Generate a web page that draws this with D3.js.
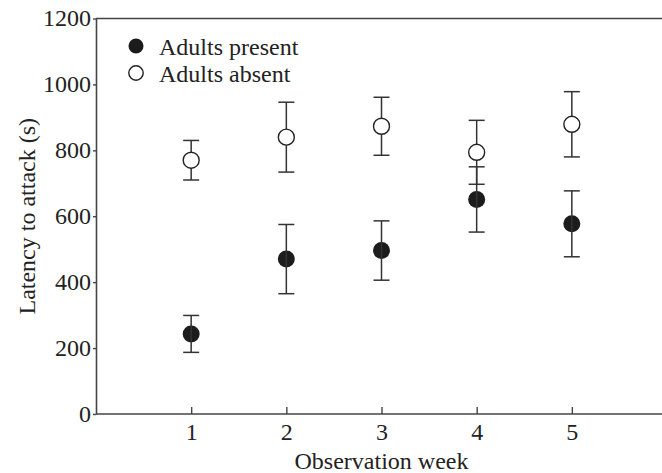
<!DOCTYPE html>
<html>
<head>
<meta charset="utf-8">
<script src="https://cdn.jsdelivr.net/npm/d3@7"></script>
<style>
    body { margin: 0; background: #fff; }
    text { font-family: "Liberation Serif", "Times New Roman", serif; fill: #222; }
</style>
</head>
<body>
<div id="chart"></div>
<script>
// data
var weeks = [1, 2, 3, 4, 5];
var presentMean = [243, 470, 496, 651, 577];
var presentErr = [56, 105, 90, 99, 100];
var absentMean = [770, 840, 873, 794, 879];
var absentErr = [60, 106, 88, 97, 99];
var yTicks = [0, 200, 400, 600, 800, 1000, 1200];
var seriesNames = ["Adults present", "Adults absent"];

var width = 662, height = 473;
var margin = {top: 18.5, right: -5, bottom: 59, left: 96};

var svg = d3.select("#chart").append("svg")
    .attr("width", width)
    .attr("height", height);

// scales
var x = d3.scaleLinear()
    .domain([0, 6])
    .range([margin.left, width - margin.right]);

var y = d3.scaleLinear()
    .domain([0, 1200])
    .range([height - margin.bottom, margin.top]);

var axisColor = "#444";

// top frame line
svg.append("line")
    .attr("x1", x(0)).attr("x2", width)
    .attr("y1", y(1200)).attr("y2", y(1200))
    .attr("stroke", axisColor)
    .attr("stroke-width", 1.6);

// x axis, ticks point inward
var xAxis = svg.append("g")
    .attr("transform", "translate(0," + y(0) + ")")
    .call(d3.axisBottom(x).tickValues(weeks).tickFormat(d3.format("d"))
        .tickSize(-7).tickPadding(9).tickSizeOuter(0));

// y axis
var yAxis = svg.append("g")
    .attr("transform", "translate(" + x(0) + ",0)")
    .call(d3.axisLeft(y).tickValues(yTicks).tickFormat(d3.format("d"))
        .tickSize(3).tickPadding(2).tickSizeOuter(0));

[xAxis, yAxis].forEach(function(ax) {
    ax.select(".domain").attr("stroke", axisColor).attr("stroke-width", 1.6);
    ax.selectAll(".tick line").attr("stroke", axisColor).attr("stroke-width", 1.4);
    ax.selectAll(".tick text")
        .attr("fill", "#222")
        .style("font-family", "'Liberation Serif', serif")
        .style("font-size", "24px");
});
// stretch bottom axis line to the right edge
xAxis.select(".domain").attr("d", "M" + x(0) + ",0H" + width);
yAxis.selectAll(".tick text").attr("dy", "0.3em");

// axis titles
svg.append("text")
    .attr("x", x(3))
    .attr("y", 469)
    .attr("text-anchor", "middle")
    .style("font-size", "24px")
    .text("Observation week");

svg.append("text")
    .attr("transform", "rotate(-90)")
    .attr("x", -(y(0) + y(1200)) / 2)
    .attr("y", 35)
    .attr("text-anchor", "middle")
    .style("font-size", "24px")
    .text("Latency to attack (s)");

var present = weeks.map(function(w, i) { return {week: w, mean: presentMean[i], err: presentErr[i]}; });
var absent = weeks.map(function(w, i) { return {week: w, mean: absentMean[i], err: absentErr[i]}; });

var cap = 8;
var barColor = "#333";

// filled points go under their error bars
svg.selectAll(".present_points")
    .data(present)
    .enter().append("circle")
    .attr("class", "present_points")
    .attr("cx", function(d) { return x(d.week); })
    .attr("cy", function(d) { return y(d.mean); })
    .attr("r", 8.5)
    .style("fill", "#1c1c1c");

function drawBars(data, cls) {
    var g = svg.selectAll("." + cls)
        .data(data)
        .enter().append("g")
        .attr("class", cls)
        .attr("stroke", barColor)
        .attr("stroke-width", 1.5);

    g.append("line")
        .attr("x1", function(d) { return x(d.week); })
        .attr("x2", function(d) { return x(d.week); })
        .attr("y1", function(d) { return y(d.mean - d.err); })
        .attr("y2", function(d) { return y(d.mean + d.err); });

    g.append("line")
        .attr("x1", function(d) { return x(d.week) - cap; })
        .attr("x2", function(d) { return x(d.week) + cap; })
        .attr("y1", function(d) { return y(d.mean + d.err); })
        .attr("y2", function(d) { return y(d.mean + d.err); });

    g.append("line")
        .attr("x1", function(d) { return x(d.week) - cap; })
        .attr("x2", function(d) { return x(d.week) + cap; })
        .attr("y1", function(d) { return y(d.mean - d.err); })
        .attr("y2", function(d) { return y(d.mean - d.err); });
}

drawBars(present, "present_bars");
drawBars(absent, "absent_bars");

// open points cover their bars
svg.selectAll(".absent_points")
    .data(absent)
    .enter().append("circle")
    .attr("class", "absent_points")
    .attr("cx", function(d) { return x(d.week); })
    .attr("cy", function(d) { return y(d.mean); })
    .attr("r", 8)
    .style("fill", "#fff")
    .style("stroke", "#222")
    .style("stroke-width", 1.4);

// legend
var legend = svg.append("g");
legend.append("circle")
    .attr("cx", 136).attr("cy", 46).attr("r", 7.5)
    .style("fill", "#1c1c1c");
legend.append("circle")
    .attr("cx", 136).attr("cy", 73).attr("r", 7.2)
    .style("fill", "#fff").style("stroke", "#222").style("stroke-width", 1.4);

legend.selectAll(".legend_text")
    .data(seriesNames)
    .enter().append("text")
    .attr("class", "legend_text")
    .attr("x", 159)
    .attr("y", function(d, i) { return 55 + i * 26.7; })
    .style("font-size", "24px")
    .text(function(d) { return d; });
</script>
</body>
</html>
